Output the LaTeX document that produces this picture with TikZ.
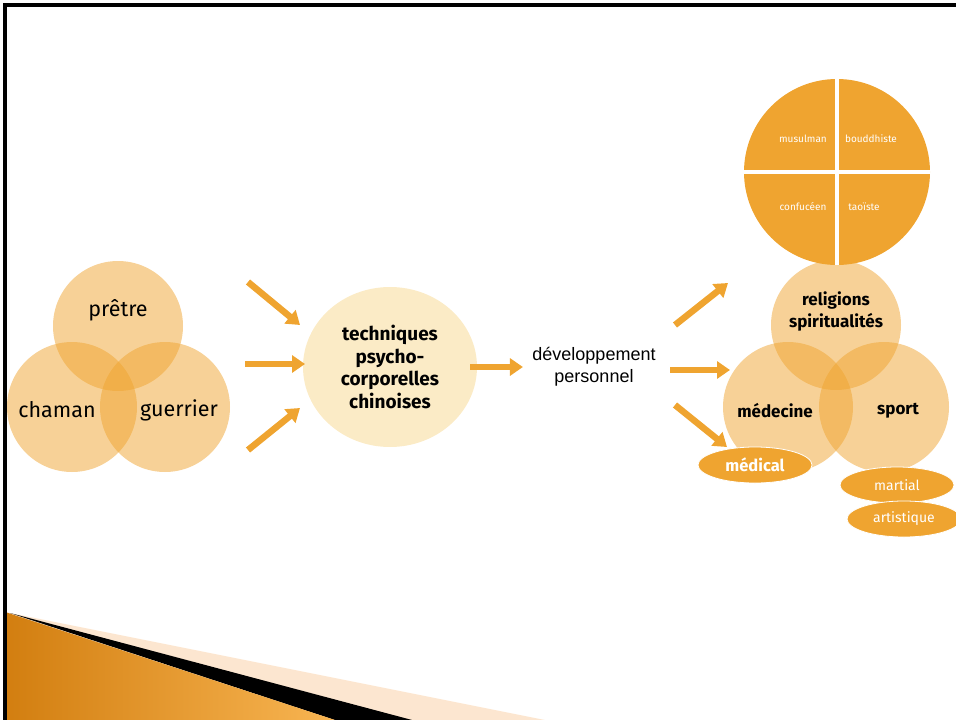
\documentclass[tikz,border=0pt]{standalone}
\usepackage{fontspec}
\setmainfont{Fira Sans}
\newfontfamily\arial{Liberation Sans}
\usepackage{xcolor}
\usetikzlibrary{arrows.meta,shapes}

\definecolor{ambre}{HTML}{EFA430}
\definecolor{creme}{HTML}{FBEBC6}
\definecolor{peche}{HTML}{FCE6D0}
\definecolor{roux}{HTML}{D27E10}
\definecolor{miel}{HTML}{F8B552}

\tikzset{
        venn/.style={circle, fill=ambre, fill opacity=0.5, minimum size=130pt, inner sep=0pt},
        mot/.style={font=\fontsize{21.5}{22}\selectfont},
        motgras/.style={font=\bfseries\fontsize{17}{22}\selectfont, align=center},
        fleche/.style={ambre, line width=6.5pt, -{Triangle[length=13pt,width=17pt]}},
        bulle/.style={ellipse, fill=ambre, draw=white, line width=0.8pt, inner sep=0pt,
                minimum width=114pt, minimum height=36pt, text=white},
        quartier/.style={text=white, font=\fontsize{10}{11}\selectfont},
}

\begin{document}
\begin{tikzpicture}[x=1pt, y=-1pt]
        \useasboundingbox (0,0) rectangle (956,720);
        % cadre et bandeau du bas
        \fill[peche] (5,612) -- (545,720) -- (5,720) -- cycle;
        \fill[black] (10,613) -- (412,720) -- (335,720) -- cycle;
        \shade[left color=roux, right color=miel] (5,612) -- (335,720) -- (5,720) -- cycle;
        \draw[line width=4pt] (4.5,720) -- (4.5,4.5) -- (956,4.5);

        % pretre, chaman, guerrier
        \node[venn] (pretre) at (118,326) {};
        \node[venn] (chaman) at (72,407) {};
        \node[venn] (guerrier) at (165,407) {};
        \node[mot] (tpretre) at (118,310) {prêtre};
        \node[mot] (tchaman) at (57,410) {chaman};
        \node[mot] (tguerrier) at (179,410) {guerrier};

        \node[ellipse, fill=creme, minimum width=174pt, minimum height=160pt, inner sep=0pt,
                font=\bfseries\fontsize{19}{22.5}\selectfont, align=center] (tech) at (390,367)
                {techniques\\psycho-\\corporelles\\chinoises};
        \node[font=\arial\fontsize{18}{22}\selectfont, align=center] (devperso) at (594,367)
                {développement\\personnel};

        \coordinate (g1) at (248,282); \coordinate (g2) at (245,364); \coordinate (g3) at (248,450);
        \coordinate (h1) at (300,325); \coordinate (h2) at (305,364); \coordinate (h3) at (300,408);
        \draw[fleche] (g1) -- (h1);
        \draw[fleche] (g2) -- (h2);
        \draw[fleche] (g3) -- (h3);
        \draw[fleche] ([xshift=-7pt]tech.east) -- ([xshift=-6pt]devperso.west);

        \coordinate (d1) at (675,325); \coordinate (d2) at (670,370); \coordinate (d3) at (675,405);
        \coordinate (e1) at (728,283); \coordinate (e2) at (730,370); \coordinate (e3) at (727,447);
        \draw[fleche] (d1) -- (e1);
        \draw[fleche] (d2) -- (e2);
        \draw[fleche] (d3) -- (e3);

        % religions, medecine, sport
        \node[venn] (religions) at (836,325) {};
        \node[venn] (medecine) at (788,407) {};
        \node[venn] (sport) at (884,407) {};
        \node[motgras] (treligions) at (836,311) {religions\\spiritualités};
        \node[motgras] (tmedecine) at (775,411) {médecine};
        \node[motgras] (tsport) at (898,411) {sport};

        % les quatre courants
        \node[circle, fill=ambre, minimum size=186pt] (roue) at (837,172) {};
        \draw[white, line width=4pt] (roue.north) -- (roue.south);
        \draw[white, line width=4pt] (roue.west) -- (roue.east);
        \node[quartier] (musulman) at (803,139) {musulman};
        \node[quartier] (bouddhiste) at (871,139) {bouddhiste};
        \node[quartier] (confuceen) at (803,207) {confucéen};
        \node[quartier] (taoiste) at (864,207) {taoïste};

        \node[bulle, font=\bfseries\fontsize{16.5}{18}\selectfont] (medical) at (755,465) {médical};
        \node[bulle, font=\fontsize{14}{16}\selectfont] (martial) at (897,485) {martial};
        \node[bulle, font=\fontsize{14}{16}\selectfont] (artistique) at (904,519) {artistique};
\end{tikzpicture}
\end{document}
